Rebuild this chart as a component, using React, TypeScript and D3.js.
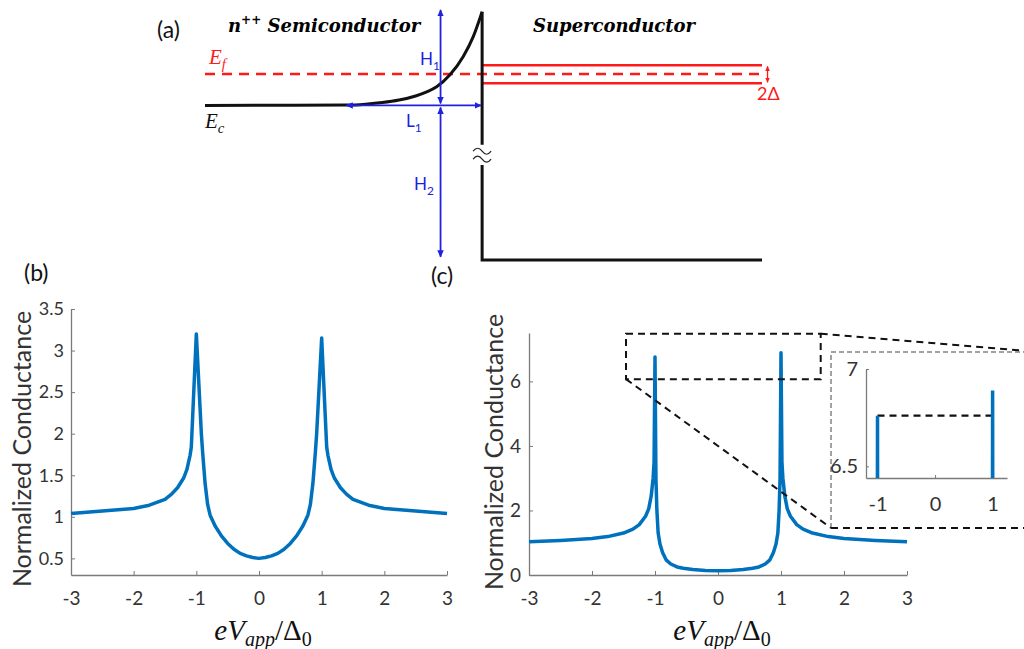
import React, { useEffect, useRef } from 'react'
import * as d3 from 'd3'

// (b) normalized conductance vs eV/Δ0
const biasB = [-3, -2.5, -2, -1.75, -1.5, -1.4, -1.3, -1.2, -1.15, -1.1, -1.08, -1.0, -0.92, -0.9, -0.86, -0.82, -0.78, -0.7, -0.6, -0.5, -0.4, -0.3, -0.2, -0.1, 0,
  0.1, 0.2, 0.3, 0.4, 0.5, 0.6, 0.7, 0.78, 0.82, 0.86, 0.9, 0.92, 1.0, 1.08, 1.1, 1.15, 1.2, 1.3, 1.4, 1.5, 1.75, 2, 2.5, 3]
const condB = [1.04, 1.07, 1.10, 1.14, 1.21, 1.27, 1.35, 1.47, 1.57, 1.74, 1.84, 3.2, 2.0, 1.78, 1.4, 1.15, 1.02, 0.89, 0.77, 0.68, 0.61, 0.56, 0.53, 0.51, 0.5,
  0.51, 0.53, 0.56, 0.61, 0.68, 0.77, 0.89, 1.02, 1.15, 1.4, 1.78, 2.0, 3.15, 1.84, 1.74, 1.57, 1.47, 1.35, 1.27, 1.21, 1.14, 1.10, 1.07, 1.04]

// (c) same, stronger barrier
const biasC = [-3, -2.5, -2, -1.75, -1.5, -1.35, -1.25, -1.15, -1.1, -1.06, -1.03, -1.015, -1.0, -0.985, -0.97, -0.95, -0.92, -0.88, -0.82, -0.75, -0.65, -0.55, -0.4, -0.2, 0,
  0.2, 0.4, 0.55, 0.65, 0.75, 0.82, 0.88, 0.92, 0.95, 0.97, 0.985, 1.0, 1.015, 1.03, 1.06, 1.1, 1.15, 1.25, 1.35, 1.5, 1.75, 2, 2.5, 3]
const condC = [1.03, 1.07, 1.13, 1.19, 1.3, 1.42, 1.56, 1.82, 2.05, 2.45, 3.0, 3.5, 6.76, 3.0, 2.0, 1.3, 0.95, 0.7, 0.46, 0.34, 0.25, 0.21, 0.17, 0.14, 0.13,
  0.14, 0.17, 0.21, 0.25, 0.34, 0.46, 0.7, 0.95, 1.3, 2.0, 3.0, 6.89, 3.5, 3.0, 2.45, 2.05, 1.82, 1.56, 1.42, 1.3, 1.19, 1.13, 1.07, 1.03]

const xTicks = [-3, -2, -1, 0, 1, 2, 3]
const yTicksB = [0.5, 1, 1.5, 2, 2.5, 3, 3.5]
const yTicksC = [0, 2, 4, 6]
const insetXTicks = [-1, 0, 1]
const insetYTicks = [6.5, 7]
const zoomX = [-1.46, 1.63]
const zoomY = [6.07, 7.48]

// (a) band diagram, position (a.u.) and energy (a.u., Ef = 0)
const bandX = [-100, -49, -42, -36, -30, -24, -20, -16.4, -11.6, -6.8, -3.2, 0]
const bandE = [-1, -0.99, -0.96, -0.91, -0.83, -0.7, -0.57, -0.41, -0.03, 0.55, 1.18, 1.97]
const fermiE = 0
const gapE = [0.27, -0.3]
const condBottomE = -5.9
const breakE = [-2.25, -2.89]
const wiggleE = [-2.42, -2.67]
const arrowX = -15

const blueLine = '#0072BD'
const red = '#ff1a1a'
const blue = '#2020e0'
const axisCol = '#7a7a7a'
const tickCol = '#333'
const sans = 'Lato, "Open Sans", sans-serif'
const serif = '"Liberation Serif", "DejaVu Serif", serif'
const titleFont = '"DejaVu Serif", serif'

export default function App() {
  const ref = useRef<SVGSVGElement>(null)

  useEffect(() => {
    const svg = d3.select(ref.current)
    svg.selectAll('*').remove()
    const defs = svg.append('defs')

    const mk = (id: string, color: string) =>
      defs.append('marker').attr('id', id).attr('viewBox', '0 0 10 10')
        .attr('refX', 9).attr('refY', 5).attr('markerWidth', 4).attr('markerHeight', 4)
        .attr('orient', 'auto-start-reverse')
        .append('path').attr('d', 'M0,0.5 L10,5 L0,9.5 z').attr('fill', color)
    mk('arrB', blue)
    mk('arrR', red)

    // ---------- (a) ----------
    const xA = d3.scaleLinear().domain([-100, 101]).range([205, 762])
    const yA = d3.scaleLinear().domain([-5.9, 2]).range([260, 10.8])
    const gA = svg.append('g')

    gA.append('line')
      .attr('x1', xA(-100)).attr('x2', xA(101))
      .attr('y1', yA(fermiE)).attr('y2', yA(fermiE))
      .attr('stroke', red).attr('stroke-width', 2.5).attr('stroke-dasharray', '10,7')
    gA.selectAll('line.gap').data(gapE).enter().append('line')
      .attr('class', 'gap')
      .attr('x1', xA(0)).attr('x2', xA(101))
      .attr('y1', d => yA(d)).attr('y2', d => yA(d))
      .attr('stroke', red).attr('stroke-width', 2.5)
    gA.append('line')
      .attr('x1', xA(103)).attr('x2', xA(103))
      .attr('y1', yA(gapE[0]) + 1).attr('y2', yA(gapE[1]) - 1)
      .attr('stroke', red).attr('stroke-width', 1.3)
      .attr('marker-start', 'url(#arrR)').attr('marker-end', 'url(#arrR)')

    const band = d3.line<number>().x((d, i) => xA(bandX[i])).y(d => yA(d)).curve(d3.curveMonotoneX)
    gA.append('path').attr('d', band(bandE))
      .attr('fill', 'none').attr('stroke', '#111').attr('stroke-width', 3)

    const x0 = xA(0)
    gA.append('path')
      .attr('d', `M${x0},${yA(bandE[bandE.length - 1])} L${x0},${yA(breakE[0])} M${x0},${yA(breakE[1])} L${x0},${yA(condBottomE)} L${xA(101)},${yA(condBottomE)}`)
      .attr('fill', 'none').attr('stroke', '#111').attr('stroke-width', 3)
    gA.selectAll('path.wig').data(wiggleE).enter().append('path')
      .attr('class', 'wig')
      .attr('d', d => `M${x0 - 9},${yA(d) + 1} q4.5,-6 9,0 t9,0`)
      .attr('fill', 'none').attr('stroke', '#222').attr('stroke-width', 1.2)

    const blueArrow = (xa: number, ya: number, xb: number, yb: number) =>
      gA.append('line').attr('x1', xa).attr('y1', ya).attr('x2', xb).attr('y2', yb)
        .attr('stroke', blue).attr('stroke-width', 1.8)
        .attr('marker-start', 'url(#arrB)').attr('marker-end', 'url(#arrB)')
    blueArrow(xA(arrowX), yA(2.03), xA(arrowX), yA(-1) - 2)
    blueArrow(xA(arrowX), yA(-1) + 2, xA(arrowX), yA(-5.8))
    blueArrow(xA(-49), yA(-1), xA(0) - 1, yA(-1))

    const sub = (x: number, y: number, main: string, s: string, color: string, family: string, size: number, italic: boolean) => {
      const t = gA.append('text').attr('x', x).attr('y', y).attr('fill', color)
        .attr('font-family', family).attr('font-size', size)
        .attr('font-style', italic ? 'italic' : 'normal')
      t.append('tspan').text(main)
      t.append('tspan').attr('dy', 5).attr('font-size', size * 0.7).text(s)
    }
    sub(420, 65, 'H', '1', blue, sans, 17, false)
    sub(406, 127, 'L', '1', blue, sans, 17, false)
    sub(414, 190, 'H', '2', blue, sans, 17, false)
    sub(209, 64, 'E', 'f', red, serif, 21, true)
    sub(205, 128, 'E', 'c', '#111', serif, 21, true)

    gA.append('text').attr('x', 757).attr('y', 100).attr('fill', red)
      .attr('font-family', sans).attr('font-size', 18).text('2Δ')

    const title = gA.append('text').attr('x', 228).attr('y', 32)
      .attr('font-family', titleFont).attr('font-size', 18).attr('font-weight', 'bold').attr('font-style', 'italic')
    title.append('tspan').text('n')
    title.append('tspan').attr('dy', -8).attr('font-size', 12).text('++')
    title.append('tspan').attr('dy', 8).text(' Semiconductor')
    gA.append('text').attr('x', 533).attr('y', 32)
      .attr('font-family', titleFont).attr('font-size', 18).attr('font-weight', 'bold').attr('font-style', 'italic')
      .text('Superconductor')

    const label = (x: number, y: number, s: string) =>
      svg.append('text').attr('x', x).attr('y', y).attr('font-family', sans).attr('font-size', 23).attr('fill', '#111').text(s)
    label(157, 38, '(a)')
    label(24, 281, '(b)')
    label(431, 284, '(c)')

    // ---------- shared helpers ----------
    const styleAxis = (g: d3.Selection<SVGGElement, unknown, null, undefined>, fs: number) => {
      g.select('.domain').attr('stroke', axisCol).attr('stroke-width', 1.3)
      g.selectAll('.tick line').attr('stroke', axisCol).attr('stroke-width', 1)
      g.selectAll('.tick text').attr('fill', tickCol).attr('font-family', sans).attr('font-size', fs)
    }
    const xLabel = (cx: number, y: number) => {
      const t = svg.append('text').attr('x', cx).attr('y', y).attr('text-anchor', 'middle')
        .attr('font-family', serif).attr('font-size', 29).attr('fill', '#111')
      t.append('tspan').attr('font-style', 'italic').text('eV')
      t.append('tspan').attr('font-style', 'italic').attr('font-size', 20).attr('dy', 6).text('app')
      t.append('tspan').attr('dy', -6).text('/Δ')
      t.append('tspan').attr('font-size', 20).attr('dy', 6).text('0')
    }
    const yLabel = (x: number, y: number) =>
      svg.append('text').attr('transform', `translate(${x},${y}) rotate(-90)`)
        .attr('text-anchor', 'middle').attr('font-family', sans).attr('font-size', 25)
        .attr('fill', '#333').text('Normalized Conductance')

    // ---------- (b) ----------
    const xB = d3.scaleLinear().domain([-3, 3]).range([71, 447])
    const yB = d3.scaleLinear().domain([0.3, 3.5]).range([575, 309])
    const gxB = svg.append('g').attr('transform', `translate(0,${yB(0.3)})`)
      .call(d3.axisBottom(xB).tickValues(xTicks).tickSizeInner(-4).tickSizeOuter(0).tickPadding(17).tickFormat(d => String(d)))
    styleAxis(gxB, 19)
    const gyB = svg.append('g').attr('transform', `translate(${xB(-3)},0)`)
      .call(d3.axisLeft(yB).tickValues(yTicksB).tickSizeInner(-4).tickSizeOuter(0).tickPadding(7).tickFormat(d => String(d)))
    styleAxis(gyB, 18)
    const lineB = d3.line<number>().x((d, i) => xB(biasB[i])).y(d => yB(d))
    svg.append('path').attr('d', lineB(condB))
      .attr('fill', 'none').attr('stroke', blueLine).attr('stroke-width', 3.5).attr('stroke-linejoin', 'round')
    xLabel(263, 640)
    yLabel(31, 449)

    // ---------- (c) ----------
    const xC = d3.scaleLinear().domain([-3, 3]).range([529, 907])
    const yC = d3.scaleLinear().domain([0, 7.5]).range([575, 333])
    const gxC = svg.append('g').attr('transform', `translate(0,${yC(0)})`)
      .call(d3.axisBottom(xC).tickValues(xTicks).tickSizeInner(-4).tickSizeOuter(0).tickPadding(17).tickFormat(d => String(d)))
    styleAxis(gxC, 19)
    const gyC = svg.append('g').attr('transform', `translate(${xC(-3)},0)`)
      .call(d3.axisLeft(yC).tickValues(yTicksC).tickSizeInner(-4).tickSizeOuter(0).tickPadding(8).tickFormat(d => String(d)))
    styleAxis(gyC, 19)
    const lineC = d3.line<number>().x((d, i) => xC(biasC[i])).y(d => yC(d))
    svg.append('path').attr('d', lineC(condC))
      .attr('fill', 'none').attr('stroke', blueLine).attr('stroke-width', 3.5).attr('stroke-linejoin', 'round')
    xLabel(722, 640)
    yLabel(503, 452)

    // zoom box and inset
    const zx0 = xC(zoomX[0]), zx1 = xC(zoomX[1]), zy0 = yC(zoomY[1]), zy1 = yC(zoomY[0])
    const ins = { l: 831, t: 352, r: 1040, b: 528 }
    const dash = (d: string, w: number, col = '#111', da = '7,5') =>
      svg.append('path').attr('d', d).attr('fill', 'none').attr('stroke', col)
        .attr('stroke-width', w).attr('stroke-dasharray', da)
    dash(`M${zx0},${zy0} H${zx1} V${zy1} H${zx0} Z`, 2)
    dash(`M${zx0},${zy1} L${ins.l},${ins.b}`, 2)
    dash(`M${zx1},${zy0} L${ins.r},${ins.t}`, 2)
    dash(`M${ins.l},${ins.b} V${ins.t} H${ins.r}`, 1, '#444', '5,3')
    dash(`M${ins.l},${ins.b} H${ins.r}`, 2)

    const xI = d3.scaleLinear().domain([-1.2, 1.25]).range([866, 1007])
    const yI = d3.scaleLinear().domain([6.44, 7.0]).range([478, 369])
    const gxI = svg.append('g').attr('transform', `translate(0,${yI(6.44)})`)
      .call(d3.axisBottom(xI).tickValues(insetXTicks).tickSizeInner(-3).tickSizeOuter(0).tickPadding(19).tickFormat(d => String(d)))
    styleAxis(gxI, 20)
    const gyI = svg.append('g').attr('transform', `translate(${xI(-1.2)},0)`)
      .call(d3.axisLeft(yI).tickValues(insetYTicks).tickSizeInner(-3).tickSizeOuter(0).tickPadding(8).tickFormat(d => String(d)))
    styleAxis(gyI, 20)

    defs.append('clipPath').attr('id', 'insetClip').append('rect')
      .attr('x', xI(-1.2)).attr('y', yI(7.0)).attr('width', xI(1.25) - xI(-1.2)).attr('height', yI(6.44) - yI(7.0))
    const peakL = condC[biasC.indexOf(-1)]
    dash(`M${xI(-1)},${yI(peakL)} H${xI(1)}`, 2.2, '#111', '7,5')
    const lineI = d3.line<number>().x((d, i) => xI(biasC[i])).y(d => yI(d))
    svg.append('path').attr('d', lineI(condC)).attr('clip-path', 'url(#insetClip)')
      .attr('fill', 'none').attr('stroke', blueLine).attr('stroke-width', 3.5)
  }, [])

  return (
    <svg ref={ref} width={1024} height={649}
      style={{ position: 'absolute', left: 0, top: 0, background: '#fff' }} />
  )
}
